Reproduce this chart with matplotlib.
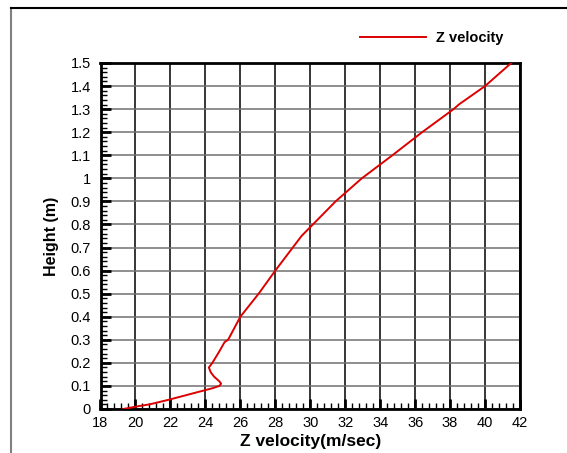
import matplotlib
matplotlib.use('Agg')
import matplotlib.pyplot as plt
from matplotlib.ticker import MultipleLocator
from matplotlib.lines import Line2D

plt.rcParams['font.family'] = ['Liberation Sans', 'DejaVu Sans']

# Z velocity profile
height = [0.0, 0.01, 0.02, 0.04, 0.06, 0.08, 0.09, 0.10, 0.11, 0.12, 0.14,
          0.16, 0.18, 0.20, 0.25, 0.29, 0.30, 0.40, 0.50, 0.60, 0.70, 0.75,
          0.80, 0.90, 1.00, 1.10, 1.20, 1.30, 1.32, 1.40, 1.50]
z_vel = [19.3, 20.0, 20.8, 21.9, 22.9, 23.9, 24.4, 24.8, 24.9, 24.8, 24.5,
         24.3, 24.2, 24.4, 24.8, 25.1, 25.3, 26.0, 27.05, 28.0, 29.0, 29.5,
         30.15, 31.45, 32.95, 34.7, 36.4, 38.2, 38.5, 40.0, 41.5]

fig = plt.figure(figsize=(5.67, 4.53), dpi=100)
ax = fig.add_axes([100.5 / 567, 1 - 409 / 453, (520 - 100.5) / 567, (409 - 63) / 453])

ax.plot(z_vel, height, color='#dd0000', lw=1.4, zorder=3)

ax.set_xlim(18, 42)
ax.set_ylim(0, 1.5)
ax.xaxis.set_major_locator(MultipleLocator(2))
ax.xaxis.set_minor_locator(MultipleLocator(0.4))
ax.yaxis.set_minor_locator(MultipleLocator(0.02))
ax.set_yticks([i / 10 for i in range(16)])
ax.set_yticklabels(['0', '0.1', '0.2', '0.3', '0.4', '0.5', '0.6', '0.7', '0.8',
                    '0.9', '1', '1.1', '1.2', '1.3', '1.4', '1.5'])

ax.tick_params(which='major', direction='in', length=7, width=2, labelsize=10.5,
               top=False, right=False)
ax.tick_params(which='minor', direction='in', length=4, width=1,
               top=False, right=False)
ax.tick_params(axis='x', pad=5)
ax.tick_params(axis='y', pad=7)

ax.grid(True, which='major', axis='x', color='black', lw=1.1)
ax.grid(True, which='major', axis='y', color='#707070', lw=1.1)
for s in ax.spines.values():
    s.set_linewidth(2)

ax.set_xlabel('Z velocity(m/sec)', fontsize=12.5, fontweight='bold', labelpad=3)
ax.set_ylabel('Height (m)', fontsize=11.5, fontweight='bold', labelpad=8)

# legend placed above the plot, like the source
handle = Line2D([], [], color='#dd0000', lw=1.4)
fig.legend([handle], ['Z velocity'], loc='center left',
           bbox_to_anchor=(347 / 567, 1 - 38 / 453), frameon=False,
           handlelength=4.5, handletextpad=0.7,
           prop={'weight': 'bold', 'size': 10.5})

# outer frame (top and left edges visible)
fig.add_artist(Line2D([11 / 567, 11 / 567], [1 - 8 / 453, 0], color='#808080',
                      lw=1.5, transform=fig.transFigure))
fig.add_artist(Line2D([11 / 567, 1], [1 - 8 / 453, 1 - 8 / 453], color='black',
                      lw=1.5, transform=fig.transFigure))

fig.savefig('out.png', dpi=100)
